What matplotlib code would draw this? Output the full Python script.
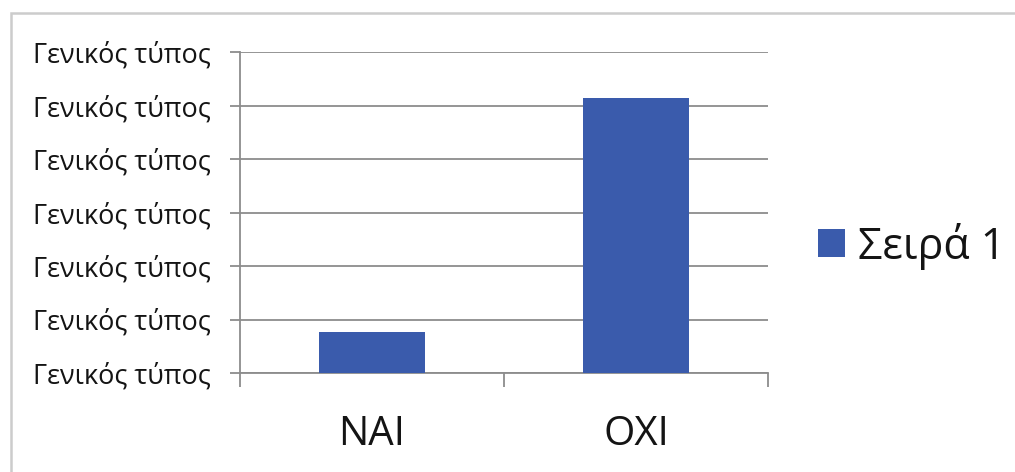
import numpy as np
import matplotlib
matplotlib.use("Agg")
import matplotlib.pyplot as plt
from matplotlib.patches import Rectangle, Patch

plt.rcParams['font.family'] = ['Open Sans', 'DejaVu Sans']

categories = ['NAI', 'OXI']
values = [0.77, 5.15]
series_name = 'Σειρά 1'
y_ticks = [0, 1, 2, 3, 4, 5, 6]
y_tick_labels = ['Γενικός τύπος'] * len(y_ticks)

bar_color = '#3a5bac'
grid_color = '#8c8c8c'
text_color = '#141414'

fig = plt.figure(figsize=(10.15, 4.72), dpi=100)
fig.patch.set_facecolor('white')

# outer chart frame
fig.add_artist(Rectangle((11 / 1015, -0.05), 1.1, 1 - 13 / 472 + 0.05,
                         transform=fig.transFigure, fill=False,
                         edgecolor='#cccccc', linewidth=1.8))

ax = fig.add_axes([240 / 1015, 1 - 373 / 472, 528 / 1015, (373 - 52.3) / 472])
x = np.arange(len(categories))
ax.bar(x, values, width=0.4, color=bar_color, zorder=3)

ax.set_xlim(-0.5, len(categories) - 0.5)
ax.set_ylim(y_ticks[0], y_ticks[-1])

ax.set_yticks(y_ticks)
ax.set_yticklabels(y_tick_labels, fontsize=19.5, color=text_color)
ax.tick_params(axis='y', length=10 * 0.72, width=1.3, color=grid_color, pad=14)
ax.yaxis.grid(True, color=grid_color, linewidth=1.3, zorder=0)

# category boundary ticks and centred labels
ax.set_xticks(np.arange(len(categories) + 1) - 0.5)
ax.set_xticklabels([])
ax.tick_params(axis='x', which='major', length=14 * 0.72, width=1.3, color=grid_color)
ax.set_xticks(x, minor=True)
ax.set_xticklabels(categories, minor=True, fontsize=29, color=text_color)
ax.tick_params(axis='x', which='minor', length=0, pad=30)

for side in ['top', 'right']:
    ax.spines[side].set_visible(False)
ax.spines['left'].set_color(grid_color)
ax.spines['left'].set_linewidth(1.3)
ax.spines['bottom'].set_color(grid_color)
ax.spines['bottom'].set_linewidth(1.3)

handle = Patch(facecolor=bar_color, edgecolor='none')
fig.legend([handle], [series_name], loc='center left',
           bbox_to_anchor=(818 / 1015, 1 - 246 / 472), frameon=False,
           fontsize=31, handlelength=0.63, handleheight=0.63, handletextpad=0.3,
           borderaxespad=0, borderpad=0, labelcolor=text_color)

fig.savefig('out.png', dpi=100, facecolor='white')
